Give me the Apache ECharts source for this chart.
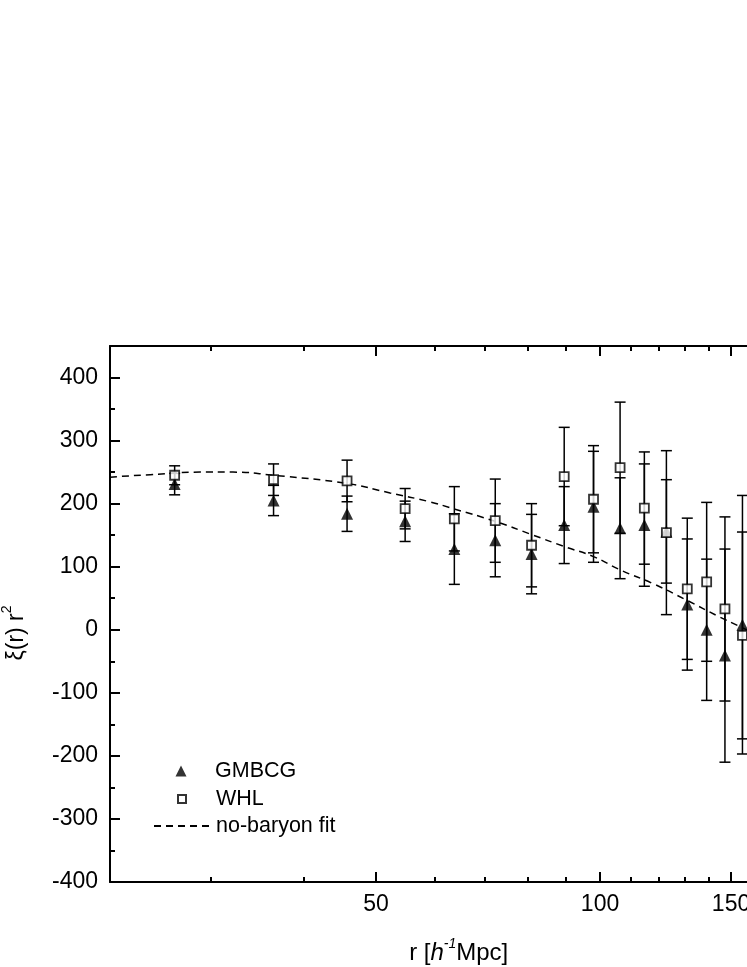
<!DOCTYPE html>
<html><head><meta charset="utf-8">
<script src="https://cdn.jsdelivr.net/npm/echarts@6/dist/echarts.min.js"></script>
<style>
html,body{margin:0;padding:0;overflow:hidden;background:#fff;width:747px;height:967px}
#c{width:850px;height:967px}
</style></head>
<body><div id="c"></div>
<script>
// ---- data ----
const radius = [26.8, 36.4, 45.7, 54.7, 63.7, 72.3, 80.9, 89.5, 98.0, 106.4, 114.7, 122.8, 131.0, 139.1, 147.2, 155.4];
const gmbcgValues = [231, 205, 184, 172, 128, 142, 120, 166, 195, 161, 166, 156, 40, 0, -41, 8];
const gmbcgErrors = [17, 24, 28, 32, 56, 58, 63, 61, 88, 80, 97, 82, 104, 112, 169, 205];
const whlValues = [245, 238, 236, 192, 176, 173, 134, 243, 207, 257, 193, 154, 65, 76, 33, -9];
const whlErrors = [15, 25, 33, 32, 51, 66, 66, 78, 85, 104, 89, 130, 112, 126, 146, 164];
const fitRadius = [21.94, 24.85, 29.0, 32.1, 36.4, 45.65, 52.2, 59.0, 63.5, 72.25, 80.9, 89.5, 98.0, 106.4, 117.9, 130.7, 144.4, 154.2, 158];
const fitValues = [242, 246, 250, 250, 245, 232, 217, 203, 192, 172, 151, 132, 116, 95, 73, 47, 21, 5, -1];
const xMajorTicks = [50, 100, 150];
const xMinorTicks = [30, 40, 60, 70, 80, 90, 110, 120, 130, 140, 160, 170, 180];
const yMajorTicks = [-400, -300, -200, -100, 0, 100, 200, 300, 400];
const yMinorTicks = [-350, -250, -150, -50, 50, 150, 250, 350];
const xMin = 21.94, xMax = 190, yMin = -400, yMax = 450;

const FONT = "'Liberation Sans', Arial, sans-serif";
const lg = Math.log10;

function helperX(position, ticks, len, withLabels, withLine) {
  return {
    type: 'value', position: position, min: lg(xMin), max: lg(xMax),
    axisLine: {show: withLine, onZero: false, lineStyle: {color: '#000', width: 2}},
    axisTick: {show: true, inside: true, length: len, customValues: ticks.map(lg), lineStyle: {color: '#000', width: 2}},
    axisLabel: withLabels ? {show: true, customValues: ticks.map(lg), margin: 11, color: '#000', fontSize: 23, fontFamily: FONT,
      formatter: v => String(Math.round(Math.pow(10, v)))} : {show: false},
    splitLine: {show: false}, minorTick: {show: false}
  };
}
function helperY(position, ticks, len, withLabels, withLine) {
  return {
    type: 'value', position: position, min: yMin, max: yMax,
    axisLine: {show: withLine, onZero: false, lineStyle: {color: '#000', width: 2}},
    axisTick: {show: true, inside: true, length: len, customValues: ticks, lineStyle: {color: '#000', width: 2}},
    axisLabel: withLabels ? {show: true, customValues: ticks, margin: 12, color: '#000', fontSize: 23, fontFamily: FONT} : {show: false},
    splitLine: {show: false}, minorTick: {show: false}
  };
}

function errorBar(params, api) {
  const x = api.value(0), y = api.value(1), e = api.value(2);
  const top = api.coord([x, y + e]);
  const bot = api.coord([x, y - e]);
  const hw = 5.5;
  const style = {stroke: '#000', lineWidth: 1.5};
  return {type: 'group', children: [
    {type: 'line', shape: {x1: top[0], y1: top[1], x2: bot[0], y2: bot[1]}, style: style},
    {type: 'line', shape: {x1: top[0] - hw, y1: top[1], x2: top[0] + hw, y2: top[1]}, style: style},
    {type: 'line', shape: {x1: bot[0] - hw, y1: bot[1], x2: bot[0] + hw, y2: bot[1]}, style: style}
  ]};
}

const xMain = {
  type: 'log', logBase: 10, position: 'bottom', min: xMin, max: xMax,
  name: '{b|r [}{i|h}{sup|-1}{b|Mpc]}', nameLocation: 'middle', nameGap: 55,
  nameTextStyle: {color: '#000', fontFamily: FONT, fontSize: 24, rich: {
    b: {fontSize: 24, fontFamily: FONT, color: '#000', lineHeight: 28, verticalAlign: 'bottom'},
    i: {fontSize: 24, fontFamily: FONT, color: '#000', fontStyle: 'italic', lineHeight: 28, verticalAlign: 'bottom'},
    sup: {fontSize: 14, fontFamily: FONT, color: '#000', fontStyle: 'italic', lineHeight: 14, verticalAlign: 'top'}
  }},
  axisLine: {show: true, onZero: false, lineStyle: {color: '#000', width: 2}},
  axisTick: {show: false}, axisLabel: {show: false},
  splitLine: {show: false}, minorTick: {show: false}, minorSplitLine: {show: false}
};

const yMain = helperY('left', yMajorTicks, 10, true, true);
yMain.name = '{b|ξ(r) r}{sup|2}';
yMain.nameLocation = 'middle';
yMain.nameGap = 82;
yMain.nameTextStyle = {color: '#000', fontFamily: FONT, fontSize: 23, padding: [0, 38, 0, 0], rich: {
  b: {fontSize: 23, fontFamily: FONT, color: '#000', lineHeight: 28, verticalAlign: 'bottom'},
  sup: {fontSize: 14, fontFamily: FONT, color: '#000', lineHeight: 14, verticalAlign: 'top'}
}};

const legendBase = {
  orient: 'vertical', padding: 0, itemGap: 0, selectedMode: false
};
const legendText = (pad) => ({color: '#000', fontSize: 21.5, fontFamily: FONT, lineHeight: 24, padding: [0, 0, 0, pad]});

const option = {
  animation: false,
  backgroundColor: '#fff',
  grid: {left: 110, top: 346, bottom: 85, right: 42.6, containLabel: false, outerBoundsMode: 'none'},
  xAxis: [
    xMain,
    helperX('bottom', xMajorTicks, 10, true, false),
    helperX('bottom', xMinorTicks, 5, false, false),
    helperX('top', xMajorTicks, 10, false, true),
    helperX('top', xMinorTicks, 5, false, false)
  ],
  yAxis: [
    yMain,
    helperY('left', yMinorTicks, 5, false, false),
    helperY('right', yMajorTicks, 10, false, true),
    helperY('right', yMinorTicks, 5, false, false)
  ],
  legend: [
    Object.assign({}, legendBase, {data: ['GMBCG'], left: 175.5, top: 759, itemWidth: 11, itemHeight: 11, textStyle: legendText(23.5)}),
    Object.assign({}, legendBase, {data: ['WHL'], left: 177, top: 787, itemWidth: 8, itemHeight: 8, textStyle: legendText(25)}),
    Object.assign({}, legendBase, {data: ['no-baryon fit'], left: 153, top: 814, itemWidth: 57, itemHeight: 14,
      itemStyle: {opacity: 0}, textStyle: legendText(0)})
  ],
  series: [
    {
      name: 'no-baryon fit', type: 'line', xAxisIndex: 0, yAxisIndex: 0,
      data: fitRadius.map((r, i) => [r, fitValues[i]]),
      smooth: 0.5, showSymbol: false, symbol: 'none', z: 1,
      itemStyle: {color: '#000'},
      lineStyle: {color: '#000', width: 1.5, type: [7, 5]}
    },
    {
      type: 'custom', xAxisIndex: 0, yAxisIndex: 0, z: 2,
      renderItem: errorBar, encode: {x: 0, y: 1},
      data: radius.map((r, i) => [r, gmbcgValues[i], gmbcgErrors[i]])
    },
    {
      name: 'GMBCG', type: 'scatter', xAxisIndex: 0, yAxisIndex: 0, z: 3,
      symbol: 'triangle', symbolSize: 12,
      itemStyle: {color: '#000'},
      data: radius.map((r, i) => [r, gmbcgValues[i]])
    },
    {
      type: 'custom', xAxisIndex: 0, yAxisIndex: 0, z: 4,
      renderItem: errorBar, encode: {x: 0, y: 1},
      data: radius.map((r, i) => [r, whlValues[i], whlErrors[i]])
    },
    {
      name: 'WHL', type: 'scatter', xAxisIndex: 0, yAxisIndex: 0, z: 5,
      symbol: 'rect', symbolSize: 9,
      itemStyle: {color: '#fff', borderColor: '#000', borderWidth: 1.8},
      data: radius.map((r, i) => [r, whlValues[i]])
    }
  ]
};

const chart = echarts.init(document.getElementById('c'), null, {renderer: 'canvas'});
chart.setOption(option);
</script>
</body></html>
